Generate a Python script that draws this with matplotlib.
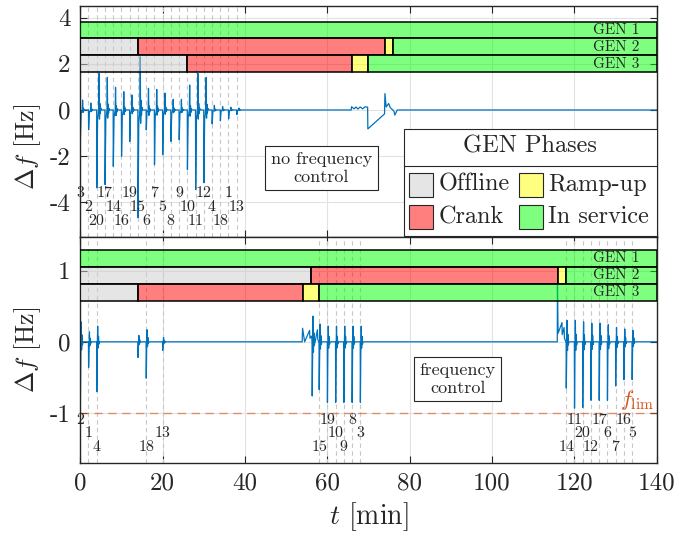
import matplotlib
matplotlib.use('Agg')
import matplotlib.pyplot as plt
from matplotlib.patches import Rectangle
from matplotlib.transforms import blended_transform_factory

plt.rcParams['font.family'] = 'cmr10'
plt.rcParams['mathtext.fontset'] = 'cm'
plt.rcParams['axes.unicode_minus'] = False

# ---------------- data: top panel (no frequency control) ----------------
top_ev_t = [0, 2, 4, 6, 8, 10, 12, 14, 16, 18, 20, 22, 24, 26, 28, 30, 32, 34, 36, 38]
top_ev_id = [3, 2, 20, 17, 14, 16, 19, 15, 6, 7, 5, 8, 9, 10, 11, 12, 4, 18, 1, 13]
top_dip = [-1.3, -0.86, -3.37, -3.23, -2.44, -2.0, -1.36, -4.66, -0.86, -2.37,
           -1.94, -1.36, -1.29, -2.58, -3.44, -3.15, -0.6, -0.47, -0.39, -0.2]
top_peak = [0.43, 0.3, 1.58, 1.41, 0.98, 0.79, 0.65, 2.3, 0.94, 0.89,
            0.73, 0.46, 0.46, 1.08, 1.58, 1.41, 0.2, 0.15, 0.12, 0.08]
# generator ramp-up transients
top_gen_t = [65.8, 65.9, 66.5, 67.0, 67.4, 68.0, 68.6, 69.2, 69.8, 69.85,
             73.9, 74.0, 74.3, 74.9, 75.3, 76.2, 76.4, 77.0]
top_gen_df = [0, 0.14, 0.05, 0.13, 0.04, 0.13, 0.05, 0.14, 0.12, -0.82,
              -0.17, 0.71, 0.13, 0.28, 0.1, -0.05, -0.22, 0]
# phase boundaries (offline, crank, ramp-up, in service)
top_gen1 = [0, 0, 0, 0, 140]
top_gen2 = [0, 14, 74, 76, 140]
top_gen3 = [0, 26, 66, 70, 140]

# ---------------- data: bottom panel (frequency control) ----------------
bot_ev_t = [0, 2, 4, 16, 20, 58, 60, 62, 64, 66, 68,
            118, 120, 122, 124, 126, 128, 130, 132, 134]
bot_ev_id = [2, 1, 4, 18, 13, 15, 19, 10, 9, 8, 3,
             14, 11, 20, 12, 17, 6, 7, 16, 5]
bot_dip = [-0.9, -0.36, -0.7, -0.51, -0.12, -0.67, -0.85, -0.85, -0.85, -0.85, -0.85,
           -0.65, -0.93, -0.92, -0.82, -0.82, -0.82, -0.62, -0.53, -0.53]
bot_peak = [0.28, 0.14, 0.22, 0.17, 0.06, 0.25, 0.22, 0.22, 0.22, 0.22, 0.22,
            0.3, 0.3, 0.28, 0.26, 0.26, 0.24, 0.2, 0.18, 0.16]
# cranking start transients
bot_crank_t = [14, 56.3]
bot_crank_dip = [-0.22, -0.76]
bot_crank_peak = [0.09, 0.36]
# generator ramp-up transients
bot_gen_t = [53.9, 54.0, 54.5, 55.7, 55.8, 56.2, 57.05, 57.6, 57.7, 57.95,
             115.85, 115.9, 116.05, 117.0, 117.05, 117.5, 117.6, 117.95]
bot_gen_df = [0, 0.19, 0.0, 0.16, 0.05, 0.08, 0.0, 0.17, 0.03, 0.0,
              0, 0.79, 0.12, 0.27, 0.1, 0.2, 0.05, 0]
bot_gen1 = [0, 0, 0, 0, 140]
bot_gen2 = [0, 56, 116, 118, 140]
bot_gen3 = [0, 14, 54, 58, 140]

f_lim = -1

# response shape of one switching event (offset [min], dip weight, peak weight)
top_shape = ([0.0, 0.04, 0.22, 0.50, 0.58, 0.68, 0.78, 0.88, 1.0, 1.15],
             [0, 1, 0.12, 0, 0, 0, 0, 0, 0, 0],
             [0, 0, 0, 0, 1, -0.25, 0.18, -0.1, 0.05, 0])
bot_shape = ([0.0, 0.04, 0.16, 0.24, 0.34, 0.44, 0.54, 0.7],
             [0, 1, 0.05, 0, 0, 0, 0, 0],
             [0, 0, 0, 1, -0.4, 0.35, -0.15, 0])

phase_names = ['Offline', 'Crank', 'Ramp-up', 'In service']
phase_colors = [(0.8, 0.8, 0.8, 0.5), (1, 0, 0, 0.5), (1, 1, 0, 0.5), (0, 1, 0, 0.5)]

blue = '#0072BD'
orange = '#D95319'
dark = '#262626'


def build_trace(ev_t, dip, peak, shape, gen_t, gen_df):
    off, wd, wp = shape
    pts = [(0.0, 0.0), (140.0, 0.0)]
    for t, d, p in zip(ev_t, dip, peak):
        for o, a, b in zip(off, wd, wp):
            pts.append((t + o, a * d + b * p))
    pts += list(zip(gen_t, gen_df))
    pts.sort(key=lambda q: q[0])
    return [q[0] for q in pts], [q[1] for q in pts]


def draw_panel(ax, tt, df, ev_t, ev_id, gens, ylim, yc, h, yticks):
    ax.plot(tt, df, color=blue, lw=0.9, zorder=2)
    for t in ev_t:
        ax.axvline(t, color='#c8c8c8', ls=(0, (4, 3)), lw=0.8, zorder=1)
    for (name, bounds), y in zip(gens, yc):
        for k in range(4):
            if bounds[k + 1] > bounds[k]:
                ax.barh(y, bounds[k + 1] - bounds[k], left=bounds[k], height=h,
                        color=phase_colors[k], edgecolor='k', lw=1.1, zorder=3)
        ax.text(135.8, y, name, ha='right', va='center', fontsize=11,
                color=dark, zorder=4)
    tr = blended_transform_factory(ax.transData, ax.transAxes)
    rows = [0.19, 0.13, 0.069]
    for t, n in zip(ev_t, ev_id):
        ax.text(t, rows[int(round(t / 2)) % 3], str(n), transform=tr,
                ha='center', va='center', fontsize=11.5, color=dark, zorder=4)
    ax.set_xlim(0, 140)
    ax.set_ylim(*ylim)
    ax.set_xticks(range(0, 141, 20))
    ax.set_yticks(yticks)
    ax.set_yticklabels([str(v) for v in yticks])
    ax.grid(True, color='#e2e2e2', lw=0.8, zorder=0)
    ax.set_axisbelow(True)
    ax.tick_params(direction='in', length=5, top=True, right=True,
                   labelsize=18, colors=dark, pad=7)
    for s in ax.spines.values():
        s.set_color(dark)
        s.set_linewidth(1.0)
    ax.set_ylabel(r'$\Delta f$ [Hz]', fontsize=18.5, color=dark)


fig = plt.figure(figsize=(6.78, 5.43), dpi=100)
ax1 = fig.add_axes([0.1183, 0.5635, 0.8503, 0.4254])
ax2 = fig.add_axes([0.1183, 0.1473, 0.8503, 0.4162])

t1, d1 = build_trace(top_ev_t, top_dip, top_peak, top_shape, top_gen_t, top_gen_df)
draw_panel(ax1, t1, d1, top_ev_t, top_ev_id,
           [('GEN 1', top_gen1), ('GEN 2', top_gen2), ('GEN 3', top_gen3)],
           (-5.5, 4.5), [3.465, 2.735, 2.0], 0.73, [-4, -2, 0, 2, 4])
ax1.tick_params(labelbottom=False)
ax1.yaxis.set_label_coords(-0.064, 0.39)

b_t = list(bot_ev_t) + list(bot_crank_t)
b_d = list(bot_dip) + list(bot_crank_dip)
b_p = list(bot_peak) + list(bot_crank_peak)
t2, d2 = build_trace(b_t, b_d, b_p, bot_shape, bot_gen_t, bot_gen_df)
draw_panel(ax2, t2, d2, bot_ev_t, bot_ev_id,
           [('GEN 1', bot_gen1), ('GEN 2', bot_gen2), ('GEN 3', bot_gen3)],
           (-1.7, 1.47), [1.17, 0.93, 0.69], 0.24, [-1, 0, 1])
ax2.yaxis.set_label_coords(-0.064, 0.5)
ax2.axhline(f_lim, color=orange, alpha=0.6, ls=(0, (6, 4)), lw=1.0, zorder=1)
ax2.text(131, -0.82, r'$f_\mathrm{lim}$', color=orange, fontsize=16,
         ha='left', va='center', zorder=4)
ax2.set_xlabel(r'$t$ [min]', fontsize=20, color=dark, labelpad=4)

tr1 = blended_transform_factory(ax1.transData, ax1.transAxes)
ax1.text(58.6, 0.299, 'no frequency\ncontrol', transform=tr1, ha='center',
         va='center', fontsize=13, color=dark, zorder=6,
         bbox=dict(boxstyle='square,pad=0.3', fc='white', ec=dark, lw=0.8))
tr2 = blended_transform_factory(ax2.transData, ax2.transAxes)
ax2.text(91.7, 0.372, 'frequency\ncontrol', transform=tr2, ha='center',
         va='center', fontsize=13, color=dark, zorder=6,
         bbox=dict(boxstyle='square,pad=0.3', fc='white', ec=dark, lw=0.8))

# legend "GEN Phases"
T = ax1.transAxes
ax1.add_patch(Rectangle((0.562, 0.004), 0.438, 0.462, transform=T, fc='white',
                        ec=dark, lw=0.8, zorder=8))
ax1.plot([0.562, 1.0], [0.307, 0.307], transform=T, color=dark, lw=0.8, zorder=9)
ax1.text(0.780, 0.391, 'GEN Phases', transform=T, ha='center', va='center',
         fontsize=17.5, color=dark, zorder=9)
px = [0.5703, 0.5703, 0.7611, 0.7611]
py = [0.1745, 0.0333, 0.1745, 0.0333]
for k in range(4):
    ax1.add_patch(Rectangle((px[k], py[k]), 0.0422, 0.104, transform=T,
                            fc=phase_colors[k], ec=dark, lw=0.8, zorder=9))
    ax1.text(px[k] + 0.051, py[k] + 0.052, phase_names[k], transform=T,
             ha='left', va='center', fontsize=17.5, color=dark, zorder=9)

fig.savefig('out.png', dpi=100)
